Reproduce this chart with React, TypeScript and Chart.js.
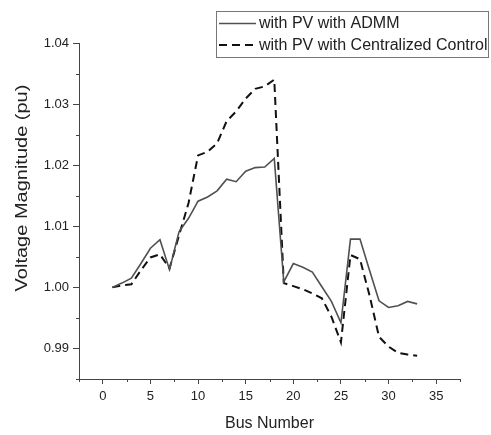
import React, { useEffect, useRef } from "react";
import { Chart, registerables } from "chart.js";

Chart.register(...registerables);

const busNumbers = [
  1, 2, 3, 4, 5, 6, 7, 8, 9, 10, 11, 12, 13, 14, 15, 16, 17, 18, 19, 20, 21,
  22, 23, 24, 25, 26, 27, 28, 29, 30, 31, 32, 33,
];

const admmVoltage = [
  1.0, 1.0007, 1.0015, 1.0039, 1.0064, 1.0078, 1.0029, 1.0091, 1.0113, 1.0141,
  1.0148, 1.0158, 1.0177, 1.0173, 1.019, 1.0196, 1.0197, 1.0211, 1.0009,
  1.0039, 1.0033, 1.0025, 1.0001, 0.9977, 0.9942, 1.0079, 1.0079, 1.0028,
  0.9978, 0.9967, 0.997, 0.9977, 0.9973,
];

const centralizedVoltage = [
  1.0, 1.0003, 1.0005, 1.0028, 1.0049, 1.0054, 1.0031, 1.0085, 1.0138, 1.0216,
  1.0222, 1.0236, 1.0272, 1.0288, 1.0309, 1.0325, 1.0329, 1.034, 1.0007,
  1.0002, 0.9997, 0.999, 0.9982, 0.9952, 0.991, 1.0053, 1.0046, 0.9987,
  0.9919, 0.9903, 0.9893, 0.989, 0.9888,
];

const seriesLabels = ["with PV with ADMM", "with PV with Centralized Control"];
const xTickValues = [0, 5, 10, 15, 20, 25, 30, 35];
const yTickValues = [0.99, 1.0, 1.01, 1.02, 1.03, 1.04];
const xMinorValues = [-2.5, 2.5, 7.5, 12.5, 17.5, 22.5, 27.5, 32.5, 37.5];
const yMinorValues = [0.985, 0.995, 1.005, 1.015, 1.025, 1.035];
const xTitle = "Bus Number";
const yTitle = "Voltage Magnitude (pu)";

const FONT = "Arial, 'Liberation Sans', sans-serif";
const AXIS_COLOR = "#444444";
const TEXT_COLOR = "#222222";

const minorTicksPlugin = {
  id: "minorTicks",
  afterDraw(chart: any) {
    const ctx = chart.ctx;
    const xs = chart.scales.x;
    const ys = chart.scales.y;
    ctx.save();
    ctx.strokeStyle = AXIS_COLOR;
    ctx.lineWidth = 1;
    ctx.beginPath();
    xMinorValues.forEach((v) => {
      const px = Math.round(xs.getPixelForValue(v)) + 0.5;
      ctx.moveTo(px, xs.top);
      ctx.lineTo(px, xs.top + 3);
    });
    yMinorValues.forEach((v) => {
      const py = Math.round(ys.getPixelForValue(v)) + 0.5;
      ctx.moveTo(ys.right, py);
      ctx.lineTo(ys.right - 3, py);
    });
    ctx.stroke();
    ctx.restore();
  },
};

const yTitlePlugin = {
  id: "yTitleStretched",
  afterDraw(chart: any) {
    const ctx = chart.ctx;
    ctx.save();
    ctx.translate(22.5, 188);
    ctx.rotate(-Math.PI / 2);
    ctx.scale(1.25, 1);
    ctx.font = `16px ${FONT}`;
    ctx.fillStyle = TEXT_COLOR;
    ctx.textAlign = "center";
    ctx.textBaseline = "middle";
    ctx.fillText(yTitle, 0, 0);
    ctx.restore();
  },
};

const boxLegendPlugin = {
  id: "boxLegend",
  afterDraw(chart: any) {
    const ctx = chart.ctx;
    const left = 216.5;
    const top = 11.5;
    const width = 272;
    const height = 46;
    ctx.save();
    ctx.fillStyle = "#ffffff";
    ctx.fillRect(left, top, width, height);
    ctx.strokeStyle = "#777777";
    ctx.lineWidth = 1;
    ctx.strokeRect(left, top, width, height);
    const rows = [23.5, 45];
    chart.data.datasets.forEach((ds: any, i: number) => {
      const y = rows[i];
      ctx.beginPath();
      ctx.strokeStyle = ds.borderColor;
      ctx.lineWidth = ds.borderWidth;
      ctx.setLineDash(ds.borderDash || []);
      ctx.moveTo(219, y);
      ctx.lineTo(256, y);
      ctx.stroke();
      ctx.setLineDash([]);
      ctx.font = `16px ${FONT}`;
      ctx.fillStyle = TEXT_COLOR;
      ctx.textAlign = "left";
      ctx.textBaseline = "middle";
      ctx.fillText(ds.label, 259, y + 0.5);
    });
    ctx.restore();
  },
};

export default function App() {
  const canvasRef = useRef<HTMLCanvasElement | null>(null);

  useEffect(() => {
    const canvas = canvasRef.current;
    if (!canvas) return;
    const chart = new Chart(canvas, {
      type: "line",
      data: {
        datasets: [
          {
            label: seriesLabels[0],
            data: busNumbers.map((b, i) => ({ x: b, y: admmVoltage[i] })),
            borderColor: "#505050",
            borderWidth: 1.6,
            pointRadius: 0,
            tension: 0,
            fill: false,
          },
          {
            label: seriesLabels[1],
            data: busNumbers.map((b, i) => ({ x: b, y: centralizedVoltage[i] })),
            borderColor: "#111111",
            borderWidth: 2,
            borderDash: [8, 5],
            pointRadius: 0,
            tension: 0,
            fill: false,
          },
        ],
      },
      options: {
        animation: false,
        responsive: false,
        devicePixelRatio: 1,
        layout: { padding: { top: 43, right: 31, left: 0, bottom: 0 } },
        plugins: {
          legend: { display: false },
          tooltip: { enabled: false },
        },
        scales: {
          x: {
            type: "linear",
            min: -2.5,
            max: 37.5,
            afterBuildTicks: (scale: any) => {
              scale.ticks = xTickValues.map((v) => ({ value: v }));
            },
            afterFit: (scale: any) => {
              scale.height = 56;
            },
            grid: {
              display: true,
              drawOnChartArea: false,
              drawTicks: true,
              tickLength: 5,
              tickColor: AXIS_COLOR,
            },
            border: { display: true, color: AXIS_COLOR, width: 1 },
            ticks: {
              color: TEXT_COLOR,
              font: { family: FONT, size: 13 },
              padding: 5,
              maxRotation: 0,
              autoSkip: false,
            },
            title: {
              display: true,
              text: xTitle,
              color: TEXT_COLOR,
              font: { family: FONT, size: 16, lineHeight: 1.2 },
              padding: { top: 0, bottom: 2 },
            },
          },
          y: {
            type: "linear",
            min: 0.985,
            max: 1.04,
            afterBuildTicks: (scale: any) => {
              scale.ticks = yTickValues.map((v) => ({ value: v }));
            },
            afterFit: (scale: any) => {
              scale.width = 79;
            },
            grid: {
              display: true,
              drawOnChartArea: false,
              drawTicks: true,
              tickLength: 6,
              tickColor: AXIS_COLOR,
            },
            border: { display: true, color: AXIS_COLOR, width: 1 },
            ticks: {
              color: TEXT_COLOR,
              font: { family: FONT, size: 13 },
              padding: 4,
              callback: (v: any) => Number(v).toFixed(2),
            },
            title: { display: false },
          },
        },
      },
      plugins: [minorTicksPlugin, yTitlePlugin, boxLegendPlugin],
    } as any);
    return () => chart.destroy();
  }, []);

  return (
    <div
      style={{
        position: "fixed",
        left: 0,
        top: 0,
        width: 491,
        height: 435,
        background: "#ffffff",
      }}
    >
      <canvas ref={canvasRef} width={491} height={435} style={{ display: "block" }} />
    </div>
  );
}
